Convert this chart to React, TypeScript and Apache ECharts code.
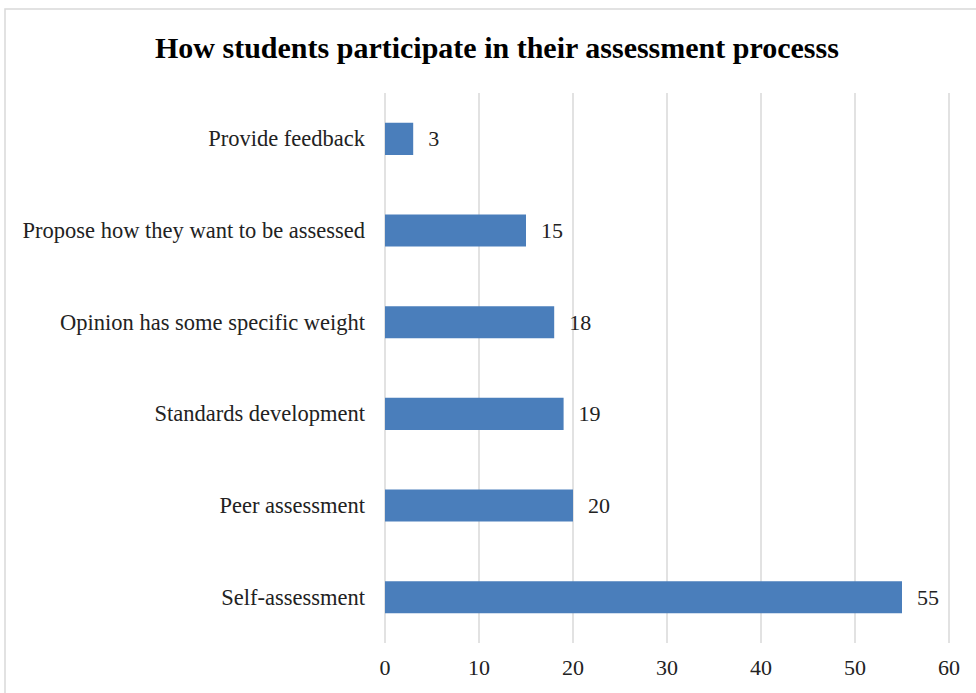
import React, { useEffect, useRef } from "react";
import * as echarts from "echarts";

const categories = [
  "Self-assessment",
  "Peer assessment",
  "Standards development",
  "Opinion has some specific weight",
  "Propose how they want to be assessed",
  "Provide feedback",
];
const values = [55, 20, 19, 18, 15, 3];
const xTicks = [0, 10, 20, 30, 40, 50, 60];
const titleText = "How students participate in their assessment processs";

export default function App() {
  const ref = useRef<HTMLDivElement>(null);
  useEffect(() => {
    const chart = echarts.init(ref.current!, null, { renderer: "svg" });
    const font = "'Liberation Serif', 'Times New Roman', serif";
    chart.setOption({
      animation: false,
      backgroundColor: "#ffffff",
      textStyle: { fontFamily: font },
      title: {
        text: titleText,
        left: 150,
        top: 27,
        textStyle: { fontFamily: font, fontWeight: "bold", fontSize: 30, color: "#000" },
      },
      graphic: [
        {
          type: "rect",
          shape: { x: 5, y: 9, width: 1000, height: 1000 },
          style: { fill: "none", stroke: "#d9d9d9", lineWidth: 1.5 },
          silent: true,
        },
      ],
      grid: { left: 385, right: 27, top: 93, bottom: 50, containLabel: false },
      xAxis: {
        type: "value",
        min: xTicks[0],
        max: xTicks[xTicks.length - 1],
        interval: 10,
        axisLine: { show: false },
        axisTick: { show: false },
        splitLine: { show: true, lineStyle: { color: "#d9d9d9", width: 1.5 } },
        axisLabel: { fontFamily: font, fontSize: 22, color: "#222", margin: 13 },
      },
      yAxis: {
        type: "category",
        data: categories,
        axisLine: { show: false },
        axisTick: { show: false },
        axisLabel: { fontFamily: font, fontSize: 22.5, color: "#222", margin: 20 },
      },
      series: [
        {
          type: "bar",
          data: values,
          barWidth: "35%",
          itemStyle: { color: "#4a7ebb" },
          label: {
            show: true,
            position: "right",
            distance: 15,
            fontFamily: font,
            fontSize: 22,
            color: "#222",
          },
        },
      ],
    });
    return () => chart.dispose();
  }, []);
  return <div ref={ref} style={{ width: 976, height: 693, position: "absolute", left: 0, top: 0 }} />;
}
